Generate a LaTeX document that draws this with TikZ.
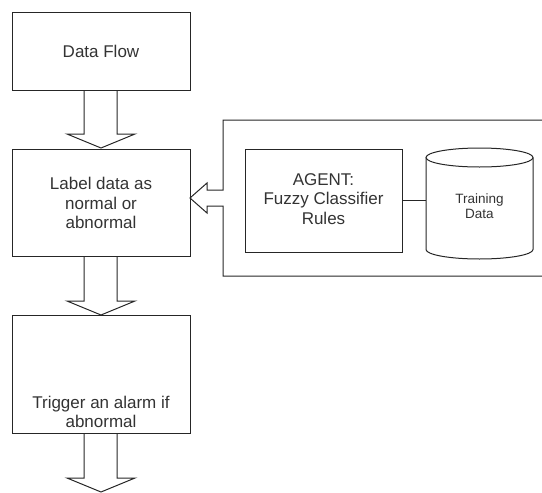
\documentclass[tikz,border=0pt]{standalone}
\usepackage{fontspec}
\setmainfont{Liberation Sans}
\begin{document}
\begin{tikzpicture}[x=1pt,y=-1pt,
  ln/.style={draw=black!85,line width=1pt},
  boxtxt/.style={font=\fontsize{17}{19.5}\selectfont,text=black!80,align=center},
  smalltxt/.style={font=\fontsize{13.5}{15}\selectfont,text=black!80,align=center}]
\useasboundingbox (0,0) rectangle (542,493);
% boxes
\draw[ln] (12,12) rectangle (190,90);
\node[boxtxt] (df) at (101,51) {Data Flow};
\draw[ln] (12,149) rectangle (190,256);
\node[boxtxt] (lb) at (101,203) {Label data as\\normal or\\abnormal};
\draw[ln] (12,315) rectangle (190,433);
\node[boxtxt] (tr) at (101,412) {Trigger an alarm if\\abnormal};
% block arrows down
\foreach \y/\t in {90/148,256/315,433/492}{
  \draw[ln,line join=miter] (84,\y) -- (84,\t-14) -- (67,\t-14) -- (101,\t) -- (135,\t-14) -- (117,\t-14) -- (117,\y);
}
% outer box with left block arrow
\draw[ln,line join=miter] (542,120) -- (223,120) -- (223,190) -- (207,190) -- (207,183) -- (190,198) -- (207,213) -- (207,206) -- (223,206) -- (223,276) -- (542,276);
% agent box
\draw[ln] (245,149) rectangle (402,252);
\node[boxtxt] (ag) at (323.5,199) {AGENT:\\Fuzzy Classifier\\Rules};
% cylinder
\coordinate (cylw) at (426,200);
\draw[ln] (426,157.5) -- (426,249.5) arc[start angle=180,end angle=360,x radius=53.5,y radius=-9.5] -- (533,157.5);
\draw[ln] (479.5,157.5) ellipse[x radius=53.5,y radius=9.5];
\node[smalltxt] (td) at (479.5,206) {Training\\Data};
\coordinate (agE) at (402,200);
\draw[ln] (agE) -- (cylw);
\end{tikzpicture}
\end{document}
